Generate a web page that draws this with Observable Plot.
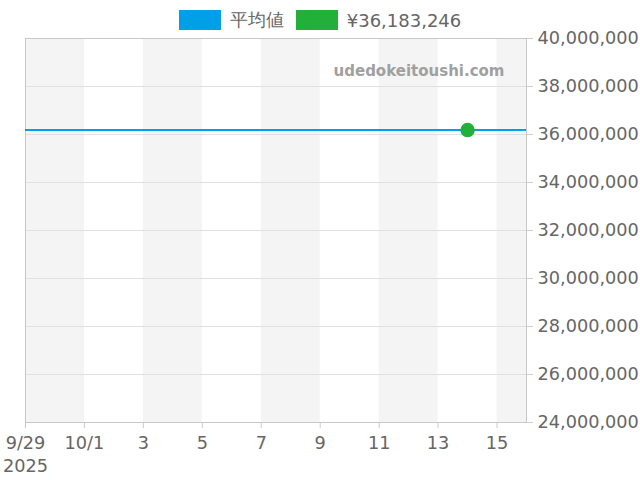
<!DOCTYPE html>
<html><head><meta charset="utf-8">
<script src="https://cdn.jsdelivr.net/npm/d3@7"></script>
<script src="https://cdn.jsdelivr.net/npm/@observablehq/plot@0.6"></script>
<style>
body{margin:0;background:#fff;font-family:"DejaVu Sans",sans-serif;}
#legend{font-size:18px;color:#666;padding-top:18px;height:0;position:relative;}
#legend .inner{position:absolute;left:0;right:0;top:8px;display:flex;justify-content:center;align-items:center;}
.sw{display:inline-block;width:42px;height:20px;}
.item{display:flex;align-items:center;gap:9px;margin:0 6px;}
</style></head><body>
<div id="legend"><div class="inner"></div></div>
<div id="chart"></div>
<script>
const seriesNames = ["平均値", "¥36,183,246"];
const seriesColors = ["#00a0e9", "#22b03a"];
const averageValue = 36183246;
const pointDates = ["2025-10-14"];
const pointValues = [36183246];
const bandStarts = ["2025-09-29", "2025-10-03", "2025-10-07", "2025-10-11", "2025-10-15"];
const bandEnds = ["2025-10-01", "2025-10-05", "2025-10-09", "2025-10-13", "2025-10-16"];
const xTicks = ["2025-09-29","2025-10-01","2025-10-03","2025-10-05","2025-10-07","2025-10-09","2025-10-11","2025-10-13","2025-10-15"];
const yTicks = [24000000,26000000,28000000,30000000,32000000,34000000,36000000,38000000,40000000];
const xDomain = ["2025-09-29", "2025-10-16"];
const yDomain = [24000000, 40000000];
const watermark = "udedokeitoushi.com";

const P = s => new Date(s + "T00:00:00");

const lg = document.querySelector("#legend .inner");
seriesNames.forEach((n,i)=>{
  const d=document.createElement("span");d.className="item";
  d.innerHTML=`<span class="sw" style="background:${seriesColors[i]}"></span><span>${n}</span>`;
  lg.appendChild(d);
});

const bands = bandStarts.map((s,i)=>({x1:P(s),x2:P(bandEnds[i])}));
const points = pointDates.map((d,i)=>({date:P(d),value:pointValues[i]}));
const fmtX = d => {
  if (d.getMonth()===8 && d.getDate()===29) return "9/29\n2025";
  if (d.getDate()===1) return (d.getMonth()+1)+"/1";
  return String(d.getDate());
};

const chart = Plot.plot({
  width:640, height:462,
  marginTop:20, marginBottom:58, marginLeft:25, marginRight:114,
  style:{fontFamily:"DejaVu Sans, sans-serif", fontSize:"17.7px", color:"#666", background:"#fff", overflow:"visible"},
  x:{type:"time", domain:xDomain.map(P), label:null},
  y:{domain:yDomain, label:null},
  marks:[
    Plot.rectY(bands,{x1:"x1",x2:"x2",y1:yDomain[0],y2:yDomain[1],fill:"#f4f4f4"}),
    Plot.gridY(yTicks,{stroke:"#e0e0e0",strokeOpacity:1}),
    Plot.axisY(yTicks,{anchor:"right",tickFormat:d=>d3.format(",")(d),stroke:"#ccc",fill:"#666",fontSize:17.7,label:null,tickSize:6,tickPadding:5}),
    Plot.axisX(xTicks.map(P),{anchor:"bottom",tickFormat:fmtX,stroke:"#ccc",fill:"#666",fontSize:17.7,label:null,lineHeight:1.3,tickSize:6,tickPadding:4}),
    Plot.frame({stroke:"#c8c8c8"}),
    Plot.ruleY([averageValue],{stroke:seriesColors[0],strokeWidth:2}),
    Plot.dot(points,{x:"date",y:"value",r:6.5,fill:seriesColors[1],stroke:seriesColors[1]}),
    Plot.text([watermark],{frameAnchor:"top-right",dx:-22,dy:27,text:d=>d,fill:"#a0a0a0",fontWeight:"bold",fontSize:15})
  ]
});
document.getElementById("chart").appendChild(chart);
</script>
</body></html>
